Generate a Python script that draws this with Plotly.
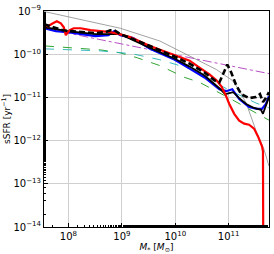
import plotly.graph_objects as go

# log10 stellar mass and log10 sSFR
red_logm = [7.542, 7.616, 7.709, 7.783, 7.857, 7.913, 7.950, 8.024, 8.098, 8.228, 8.414, 8.599, 8.785, 8.952, 9.156, 9.527, 9.991, 10.269, 10.454, 10.640, 10.770, 10.863, 10.937, 11.011, 11.104, 11.197, 11.290, 11.382, 11.475, 11.549, 11.624, 11.642, 11.651]
red_logs = [-9.330, -9.353, -9.285, -9.239, -9.285, -9.376, -9.558, -9.444, -9.399, -9.399, -9.444, -9.467, -9.490, -9.535, -9.604, -9.809, -10.014, -10.150, -10.310, -10.469, -10.606, -10.743, -10.925, -11.153, -11.380, -11.540, -11.608, -11.631, -11.722, -11.904, -12.132, -12.246, -16.0]

dash_logm = [7.542, 7.672, 7.764, 7.894, 8.043, 8.228, 8.506, 8.692, 8.785, 8.859, 8.970, 9.156, 9.527, 9.991, 10.269, 10.547, 10.733, 10.826, 10.900, 10.974, 11.048, 11.141, 11.234, 11.382, 11.512, 11.586, 11.642, 11.698, 11.754]
dash_logs = [-9.308, -9.353, -9.399, -9.444, -9.467, -9.490, -9.513, -9.490, -9.444, -9.444, -9.535, -9.626, -9.809, -10.059, -10.219, -10.424, -10.606, -10.651, -10.446, -10.241, -10.424, -10.720, -10.925, -11.016, -10.993, -10.925, -11.107, -11.016, -10.879]

blue_logm = [7.542, 7.764, 7.987, 8.228, 8.506, 8.748, 8.859, 8.970, 9.212, 9.527, 9.991, 10.269, 10.547, 10.826, 10.955, 11.067, 11.197, 11.382, 11.530, 11.623, 11.698, 11.754]
blue_logs = [-9.399, -9.467, -9.490, -9.535, -9.581, -9.558, -9.467, -9.558, -9.626, -9.877, -10.128, -10.333, -10.538, -10.811, -10.856, -10.811, -11.039, -11.221, -11.267, -11.267, -11.153, -10.970]

black_logm = [7.542, 7.987, 8.506, 8.970, 9.527, 9.991, 10.269, 10.547, 10.826, 10.937, 11.011, 11.085, 11.197, 11.327, 11.475, 11.605, 11.642, 11.698, 11.754]
black_logs = [-9.376, -9.467, -9.535, -9.535, -9.854, -10.105, -10.287, -10.492, -10.788, -10.925, -10.902, -10.879, -11.016, -11.153, -11.244, -11.289, -11.380, -11.198, -10.993]

gray_logm = [7.542, 8.970, 9.712, 10.269, 10.770, 11.067, 11.197, 11.327, 11.420, 11.531, 11.661, 11.754]
gray_logs = [-9.011, -9.399, -9.695, -10.036, -10.355, -10.606, -10.834, -11.130, -11.472, -11.836, -12.200, -12.588]

purple_logm = [7.542, 9.0, 10.5, 11.755]
purple_logs = [-9.40, -9.765, -10.14, -10.45]

cyan_logm = [7.560, 8.599, 9.193, 9.712, 10.269, 11.011, 11.512, 11.754]
cyan_logs = [-9.877, -9.923, -9.991, -10.128, -10.333, -10.834, -11.130, -11.244]

green_logm = [7.560, 8.599, 8.970, 9.286, 9.712, 10.176, 10.454, 11.011, 11.773]
green_logs = [-9.809, -9.900, -9.968, -10.082, -10.264, -10.538, -10.651, -11.016, -11.540]

xtick_exp = [8, 9, 10, 11]
ytick_exp = [-14, -13, -12, -11, -10, -9]


def p(v):
    return [10 ** a for a in v]


fig = go.Figure()


def add(xs, ys, color, width, dash="solid"):
    fig.add_trace(go.Scatter(x=p(xs), y=p(ys), mode="lines",
                             line=dict(color=color, width=width, dash=dash),
                             showlegend=False, hoverinfo="skip"))


add(gray_logm, gray_logs, "#8a8a8a", 0.8)
add(purple_logm, purple_logs, "#b03cc0", 0.9, "dashdot")
add(green_logm, green_logs, "#1a9a1a", 0.9, "dash")
add(cyan_logm, cyan_logs, "#20b0b8", 0.9, "dash")
add(blue_logm, blue_logs, "#0000ff", 2.2)
add(black_logm, black_logs, "#000000", 1.8)
add(red_logm, red_logs, "#ff0000", 2.2)
add(dash_logm, dash_logs, "#000000", 2.6, "6px,3px")

font = dict(family="DejaVu Sans", size=10, color="black")

fig.update_layout(
    width=274, height=254,
    margin=dict(l=44, r=4, t=8, b=27),
    paper_bgcolor="white", plot_bgcolor="white",
    font=font,
    xaxis=dict(type="log", range=[7.542, 11.755],
               tickvals=[10 ** e for e in xtick_exp],
               ticktext=["10<sup>%d</sup>" % e for e in xtick_exp],
               showgrid=True, gridcolor="#cfcfcf", gridwidth=1,
               showline=True, linecolor="black", linewidth=1, mirror=True,
               ticks="inside", ticklen=4, tickcolor="black",
               minor=dict(ticks="inside", ticklen=2, tickcolor="black", showgrid=False),
               title=dict(text="<i>M</i><sub>*</sub> [<i>M</i><sub>⊙</sub>]", standoff=2, font=dict(size=9)),
               zeroline=False),
    yaxis=dict(type="log", range=[-14, -9],
               tickvals=[10 ** e for e in ytick_exp],
               ticktext=["10<sup>−%d</sup>" % (-e) for e in ytick_exp],
               showgrid=True, gridcolor="#cfcfcf", gridwidth=1,
               showline=True, linecolor="black", linewidth=1, mirror=True,
               ticks="inside", ticklen=4, tickcolor="black",
               minor=dict(ticks="inside", ticklen=2, tickcolor="black", showgrid=False),
               title=dict(text="sSFR [yr<sup>−1</sup>]", standoff=2, font=dict(size=9)),
               zeroline=False),
)

fig.write_html("out.html", config={"displayModeBar": False},
               post_script="document.body.style.margin='0';document.body.style.padding='0';")
